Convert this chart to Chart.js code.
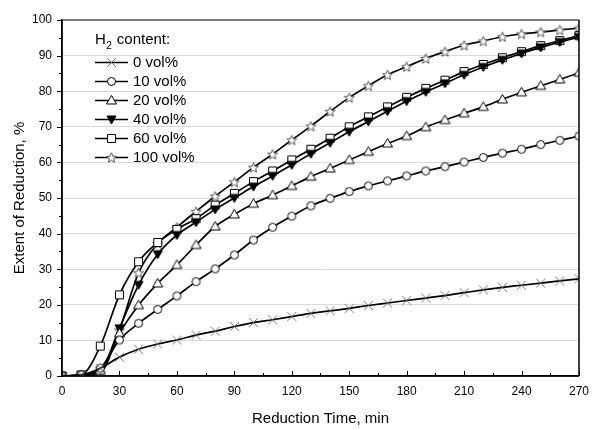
<!DOCTYPE html>
<html><head><meta charset="utf-8">
<script src="https://cdn.jsdelivr.net/npm/chart.js@4/dist/chart.umd.min.js"></script>
<style>html,body{margin:0;padding:0;background:#fff}#wrap{width:597px;height:430px}</style>
</head><body><div id="wrap"><canvas id="c" width="597" height="430"></canvas></div>
<script>
const times = [0,10,20,30,40,50,60,70,80,90,100,110,120,130,140,150,160,170,180,190,200,210,220,230,240,250,260,270];
const h2_0   = [0,0.3,2.2,5.3,7.5,9.0,10.1,11.5,12.6,13.9,15.0,15.8,16.7,17.6,18.3,19.0,19.8,20.5,21.2,21.9,22.6,23.4,24.2,24.9,25.5,26.1,26.7,27.3];
const h2_10  = [0,0.3,2.2,10.1,14.8,18.7,22.5,26.5,30.1,34.0,38.2,41.8,44.9,47.8,49.9,51.8,53.4,54.8,56.2,57.6,58.8,60.1,61.4,62.6,63.7,65.0,66.2,67.4];
const h2_20  = [0,0.2,1.5,12.0,19.9,26.0,31.2,36.8,42.0,45.4,48.4,50.8,53.4,56.0,58.3,60.7,63.0,65.3,67.4,69.9,71.9,73.8,75.6,77.7,79.7,81.5,83.3,85.2];
const h2_40  = [0,0.2,1.5,13.4,25.6,34.2,39.6,43.2,46.8,50.0,53.2,56.2,59.3,62.4,65.5,68.6,71.5,74.4,77.2,79.8,82.2,84.6,86.8,88.8,90.6,92.3,93.8,95.2];
const h2_60  = [0,0.3,8.4,22.8,32.1,37.5,41.2,44.2,48.0,51.3,54.6,57.6,60.7,63.7,66.8,70.0,72.8,75.6,78.3,80.8,83.1,85.5,87.5,89.4,91.1,92.8,94.2,95.6];
const h2_100 = [0,0.2,1.0,12.9,29.0,37.2,41.8,46.2,50.5,54.5,58.6,62.3,66.3,70.2,74.3,78.2,81.5,84.6,86.9,89.2,91.1,92.9,94.1,95.3,96.1,96.6,97.2,97.7];
const seriesLabels = ['0 vol%','10 vol%','20 vol%','40 vol%','60 vol%','100 vol%'];
const legendTitle = 'content:';
const xTitle = 'Reduction Time, min';
const yTitle = 'Extent of Reduction, %';

function marker(kind){
  const s = 13, c = document.createElement('canvas');
  c.width = s; c.height = s;
  const g = c.getContext('2d');
  const m = s/2;
  g.lineWidth = 1; g.strokeStyle = '#000'; g.fillStyle = '#fff';
  g.beginPath();
  if (kind === 'cross') {
    g.strokeStyle = '#777';
    g.moveTo(m-4.5,m-4.5); g.lineTo(m+4.5,m+4.5);
    g.moveTo(m+4.5,m-4.5); g.lineTo(m-4.5,m+4.5);
    g.stroke();
  } else if (kind === 'circle') {
    g.arc(m,m,4,0,Math.PI*2); g.fill(); g.stroke();
  } else if (kind === 'tri') {
    g.moveTo(m,m-5); g.lineTo(m+5,m+3.5); g.lineTo(m-5,m+3.5); g.closePath(); g.fill(); g.stroke();
  } else if (kind === 'dtri') {
    g.fillStyle = '#000';
    g.moveTo(m-4.5,m-3.5); g.lineTo(m+4.5,m-3.5); g.lineTo(m,m+4.5); g.closePath(); g.fill(); g.stroke();
  } else if (kind === 'rect') {
    g.rect(m-4,m-4,8,8); g.fill(); g.stroke();
  } else if (kind === 'star') {
    g.strokeStyle = '#555';
    for (let i=0;i<10;i++){
      const r = i%2===0 ? 5.2 : 2.3;
      const a = -Math.PI/2 + i*Math.PI/5;
      const x = m + r*Math.cos(a), y = m + 0.5 + r*Math.sin(a);
      if (i===0) g.moveTo(x,y); else g.lineTo(x,y);
    }
    g.closePath(); g.fill(); g.stroke();
  }
  return c;
}
const markers = [marker('cross'),marker('circle'),marker('tri'),marker('dtri'),marker('rect'),marker('star')];
const seriesData = [h2_0,h2_10,h2_20,h2_40,h2_60,h2_100];

const datasets = seriesData.map((d,i)=>({
  label: seriesLabels[i],
  data: times.map((t,j)=>({x:t,y:d[j]})),
  borderColor:'#000', borderWidth:1.7,
  pointStyle: markers[i], pointRadius:5,
  cubicInterpolationMode:'monotone', fill:false
}));

const FONT = '"Liberation Sans", Arial, sans-serif';

const decor = {
  id:'decor',
  afterDatasetsDraw(chart){
    const ctx = chart.ctx, a = chart.chartArea, xs = chart.scales.x, ys = chart.scales.y;
    ctx.save();
    // frame
    ctx.strokeStyle = '#555'; ctx.lineWidth = 1.5;
    ctx.beginPath(); ctx.moveTo(a.left, a.top); ctx.lineTo(a.right, a.top); ctx.stroke();
    ctx.strokeStyle = '#000'; ctx.lineWidth = 1.5;
    ctx.beginPath(); ctx.moveTo(a.right, a.top); ctx.lineTo(a.right, a.bottom); ctx.stroke();
    ctx.beginPath(); ctx.moveTo(a.left, a.top); ctx.lineTo(a.left, a.bottom); ctx.lineTo(a.right, a.bottom); ctx.stroke();
    // ticks
    ctx.lineWidth = 1; ctx.strokeStyle = '#000';
    ctx.beginPath();
    for (let t = xs.min; t <= xs.max; t += 15) {
      const px = Math.round(xs.getPixelForValue(t)) + 0.5;
      const len = (t % 30 === 0) ? 5 : 3;
      ctx.moveTo(px, a.bottom); ctx.lineTo(px, a.bottom - len);
    }
    for (let v = ys.min; v <= ys.max; v += 5) {
      const py = Math.round(ys.getPixelForValue(v)) + 0.5;
      const len = (v % 10 === 0) ? 5 : 3;
      ctx.moveTo(a.left - len, py); ctx.lineTo(a.left, py);
    }
    ctx.stroke();
    // legend
    const lx = 95, ly0 = 62.5, dy = 19;
    ctx.fillStyle = '#000'; ctx.textBaseline = 'middle'; ctx.textAlign = 'left';
    ctx.font = '15px ' + FONT;
    ctx.fillText('H', lx, 40);
    const hw = ctx.measureText('H').width;
    ctx.font = '10px ' + FONT;
    ctx.fillText('2', lx + hw + 0.5, 46);
    ctx.font = '15px ' + FONT;
    ctx.fillText(legendTitle, lx + hw + 11, 40);
    for (let i = 0; i < seriesLabels.length; i++) {
      const y = ly0 + i*dy;
      ctx.strokeStyle = '#000'; ctx.lineWidth = 1.7;
      ctx.beginPath(); ctx.moveTo(lx, y); ctx.lineTo(lx + 33, y); ctx.stroke();
      const m = markers[i];
      ctx.drawImage(m, lx + 16.5 - m.width/2, y - m.height/2);
      ctx.fillText(seriesLabels[i], lx + 38, y);
    }
    ctx.restore();
  }
};

new Chart(document.getElementById('c'), {
  type:'line',
  data:{datasets},
  options:{
    responsive:false, animation:false, devicePixelRatio:1,
    layout:{padding:{top:20,right:9,left:0,bottom:0}},
    plugins:{legend:{display:false}, tooltip:{enabled:false}},
    scales:{
      x:{type:'linear', min:0, max:270,
        ticks:{stepSize:30, color:'#000', font:{family:FONT,size:12}, padding:8, maxRotation:0},
        grid:{display:false, drawTicks:false},
        border:{display:true,color:'#000',width:1.5},
        title:{display:true,text:xTitle,color:'#000',font:{family:FONT,size:15},padding:{top:0,bottom:2}},
        afterFit(s){ s.height = 54; }
      },
      y:{min:0, max:100,
        ticks:{stepSize:10, color:'#000', font:{family:FONT,size:12}, padding:10},
        grid:{drawTicks:false, color:(c)=> (c.tick && (c.tick.value===0 || c.tick.value===100)) ? 'rgba(0,0,0,0)' : '#dadada', lineWidth:1},
        border:{display:true,color:'#000',width:1.5},
        title:{display:true,text:yTitle,color:'#000',font:{family:FONT,size:15},padding:{top:11,bottom:0}},
        afterFit(s){ s.width = 62; }
      }
    }
  },
  plugins:[decor]
});
</script>
</body></html>
